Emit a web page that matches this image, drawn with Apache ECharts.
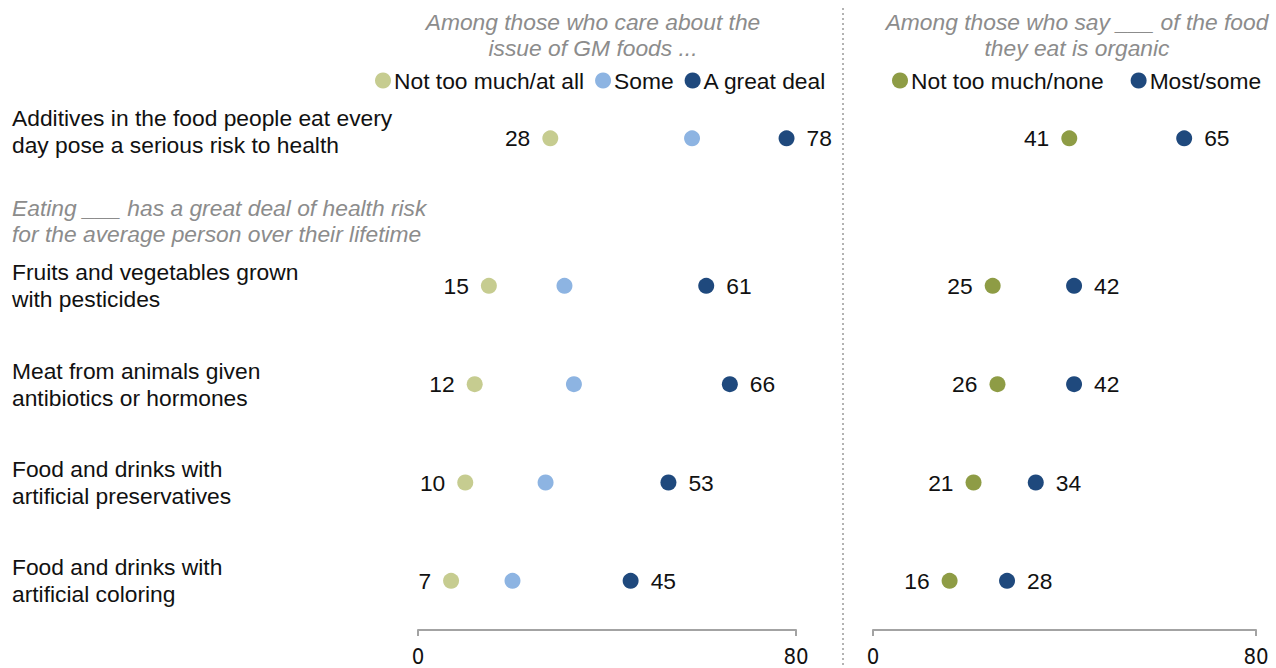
<!DOCTYPE html>
<html>
<head>
<meta charset="utf-8">
<script src="https://cdn.jsdelivr.net/npm/echarts@6/dist/echarts.min.js"></script>
<style>
html,body{margin:0;padding:0;background:#fff;}
#chart{width:1276px;height:668px;}
</style>
</head>
<body>
<div id="chart"></div>
<script>
// ---------- DATA ----------
const categories = [
  'Additives in the food people eat every\nday pose a serious risk to health',
  'Fruits and vegetables grown\nwith pesticides',
  'Meat from animals given\nantibiotics or hormones',
  'Food and drinks with\nartificial preservatives',
  'Food and drinks with\nartificial coloring'
];
const subheading = ['Eating ___ has a great deal of health risk', 'for the average person over their lifetime'];
const leftTitle = 'Among those who care about the\nissue of GM foods ...';
const rightTitle = 'Among those who say ___ of the food\nthey eat is organic';
const leftSeriesNames = ['Not too much/at all', 'Some', 'A great deal'];
const rightSeriesNames = ['Not too much/none', 'Most/some'];
const gmNotMuch = [28, 15, 12, 10, 7];
const gmSome = [58, 31, 33, 27, 20];
const gmGreatDeal = [78, 61, 66, 53, 45];
const orgNotMuch = [41, 25, 26, 21, 16];
const orgMostSome = [65, 42, 42, 34, 28];
const xTicks = [0, 80];

// ---------- LAYOUT ----------
const ROW_SLOT = [0, 1.5, 2.5, 3.5, 4.5];
const LABEL_SLOT = [-0.07, 1.5, 2.5, 3.5, 4.5];
const SUB_SLOT = 0.84;
const FONT = '"Liberation Sans", Arial, sans-serif';
const FS = 22.8;
const C_LGREEN = '#c6cc90';
const C_LBLUE = '#8db4e2';
const C_DBLUE = '#1f497d';
const C_OLIVE = '#8e9c45';

function pairs(vals){ return vals.map((v,i)=>[v, ROW_SLOT[i]]); }

const labelBase = {show:true, fontSize:FS, color:'#111', fontFamily:FONT, distance:12, formatter: p => p.value[0]};

function sc(name, vals, color, xi, labelPos){
  return {
    name, type:'scatter', xAxisIndex:xi, yAxisIndex:xi,
    data: pairs(vals), symbol:'circle', symbolSize:16,
    itemStyle:{color, opacity:1},
    label: labelPos ? Object.assign({}, labelBase, {position:labelPos}) : {show:false},
    emphasis:{disabled:true}, z:3
  };
}

function xAx(gi){
  return {
    gridIndex:gi, type:'value', min:xTicks[0], max:xTicks[1], interval:xTicks[1]-xTicks[0],
    axisLine:{show:true, onZero:false, lineStyle:{color:'#a3a3a3', width:2}},
    axisTick:{show:true, length:6, lineStyle:{color:'#a3a3a3', width:2}},
    splitLine:{show:false},
    axisLabel:{fontSize:22, color:'#111', fontFamily:'"DejaVu Sans Condensed", "DejaVu Sans", sans-serif', margin:15}
  };
}

const titleStyle = {fontSize:FS, fontStyle:'italic', fontWeight:'normal', color:'#8c8c8c', lineHeight:26, fontFamily:FONT, align:'center'};

const option = {
  animation:false,
  textStyle:{fontFamily:FONT},
  title:[
    {text:leftTitle, left:593, top:9, textAlign:'center', padding:0, textStyle:titleStyle},
    {text:rightTitle, left:1077, top:9, textAlign:'center', padding:0, textStyle:titleStyle}
  ],
  legend:[
    {data:leftSeriesNames, left:375, top:69, padding:0, icon:'circle', itemWidth:16, itemHeight:16, itemGap:11,
     textStyle:{fontSize:FS, color:'#111', fontFamily:FONT, padding:[0,0,0,-2]}, selectedMode:false},
    {data:rightSeriesNames, left:892, top:69, padding:0, icon:'circle', itemWidth:16, itemHeight:16, itemGap:27,
     textStyle:{fontSize:FS, color:'#111', fontFamily:FONT, padding:[0,0,0,-2]}, selectedMode:false}
  ],
  grid:[
    {left:418, width:378, top:40, height:590},
    {left:873, width:383, top:40, height:590}
  ],
  xAxis:[xAx(0), xAx(1)],
  yAxis:[
    {gridIndex:0, type:'value', inverse:true, min:-1, max:5,
     axisLine:{show:false}, axisTick:{show:false}, splitLine:{show:false},
     axisLabel:{
       show:true, customValues: LABEL_SLOT.concat([SUB_SLOT]), align:'left', margin:406,
       fontSize:FS, color:'#111', lineHeight:27, fontFamily:FONT,
       formatter: function(v){
         if (Math.abs(v - SUB_SLOT) < 1e-6) return subheading.map(s=>'{sub|'+s+'}').join('\n');
         const i = LABEL_SLOT.findIndex(r=>Math.abs(r-v)<1e-6);
         return i >= 0 ? categories[i] : '';
       },
       rich:{
         sub:{fontSize:FS, fontStyle:'italic', color:'#8c8c8c', lineHeight:26, fontFamily:FONT}
       }
     }},
    {gridIndex:1, type:'value', inverse:true, min:-1, max:5, show:false}
  ],
  graphic:[
    {type:'line', shape:{x1:843, y1:8, x2:843, y2:668}, style:{stroke:'#9a9a9a', lineWidth:1.5, lineDash:[2,3]}, silent:true}
  ],
  series:[
    sc(leftSeriesNames[0], gmNotMuch, C_LGREEN, 0, 'left'),
    sc(leftSeriesNames[1], gmSome, C_LBLUE, 0, null),
    sc(leftSeriesNames[2], gmGreatDeal, C_DBLUE, 0, 'right'),
    sc(rightSeriesNames[0], orgNotMuch, C_OLIVE, 1, 'left'),
    sc(rightSeriesNames[1], orgMostSome, C_DBLUE, 1, 'right')
  ]
};

const chart = echarts.init(document.getElementById('chart'), null, {renderer:'svg'});
chart.setOption(option);
</script>
</body>
</html>
